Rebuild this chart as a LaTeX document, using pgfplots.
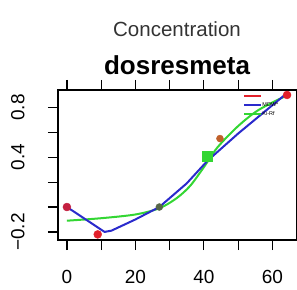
\documentclass[border=0pt]{standalone}
\usepackage{pgfplots}
\pgfplotsset{compat=1.18}
\usepackage{fontspec}
\setmainfont{Liberation Sans}
\definecolor{rblue}{HTML}{2A2ACC}
\definecolor{rgreen}{HTML}{33D633}
\definecolor{rred}{HTML}{E2202A}
\definecolor{rdred}{HTML}{C42040}
\definecolor{rolive}{HTML}{556648}
\definecolor{rorange}{HTML}{C0602A}
\begin{document}
\begin{tikzpicture}[x=1pt,y=1pt]
\useasboundingbox (0,0) rectangle (297,289);
\node[font=\fontsize{20.5}{22}\selectfont, text=black!80] at (177,260) {Concentration};
\node[font=\fontsize{26}{28}\selectfont\bfseries] at (177,224) {dosresmeta};
\begin{axis}[
  at={(58pt,49pt)}, anchor=south west,
  scale only axis, width=239pt, height=150pt,
  xmin=-2.6, xmax=67.2, ymin=-0.265, ymax=0.94,
  axis line style={line width=1.2pt},
  tick style={line width=1.2pt, black},
  tick align=outside, major tick length=10pt,
  xtick={0,10,20,30,40,50,60}, xticklabels={0,,20,,40,,60},
  ytick={-0.2,0,0.2,0.4,0.6,0.8}, yticklabels={−0.2,,,0.4,,0.8},
  xticklabel style={font=\fontsize{19}{19}\selectfont, anchor=north, yshift=-17pt},
  yticklabel style={font=\fontsize{19}{19}\selectfont, rotate=90, anchor=south, yshift=20pt},
  /pgf/number format/assume math mode=true,
  legend style={at={(0.775,0.98)}, anchor=north west, draw=none, fill=none,
    font=\fontsize{5.5}{6}\selectfont, row sep=3pt, inner sep=0pt,
    nodes={inner sep=0.5pt, text height=4pt, text depth=1pt}},
  legend cell align=left,
  clip=false,
]
\addlegendimage{rred, line width=1.5pt}
\addlegendentry{\phantom{M}}
\addlegendimage{rblue, line width=1.5pt}
\addlegendentry{MDW*}
\addlegendimage{rgreen, line width=1.5pt}
\addlegendentry{Ki-Rf}
\addplot[rgreen, line width=2pt, smooth, forget plot] coordinates {
(0,-0.11) (10,-0.09) (20,-0.06) (27,-0.01) (32,0.07) (36,0.17) (40,0.32) (44,0.48) (50,0.65) (56,0.78) (64.5,0.9)};
\addplot[rblue, line width=2pt, forget plot] coordinates {
(0,0.0) (11,-0.2) (13,-0.19) (20,-0.1) (27,0.0) (35,0.19) (41,0.37) (50,0.59) (64.5,0.92)};
\addplot[only marks, mark=*, mark size=4pt, rdred, forget plot] coordinates {(0,0.0)};
\addplot[only marks, mark=*, mark size=4pt, rred, forget plot] coordinates {(9,-0.22) (64.3,0.9)};
\addplot[only marks, mark=*, mark size=3.5pt, rolive, forget plot] coordinates {(27,0.0)};
\addplot[only marks, mark=square*, mark size=5pt, rgreen, forget plot] coordinates {(41,0.41)};
\addplot[only marks, mark=*, mark size=3.5pt, rorange, forget plot] coordinates {(44.7,0.55)};
\end{axis}
\end{tikzpicture}
\end{document}
